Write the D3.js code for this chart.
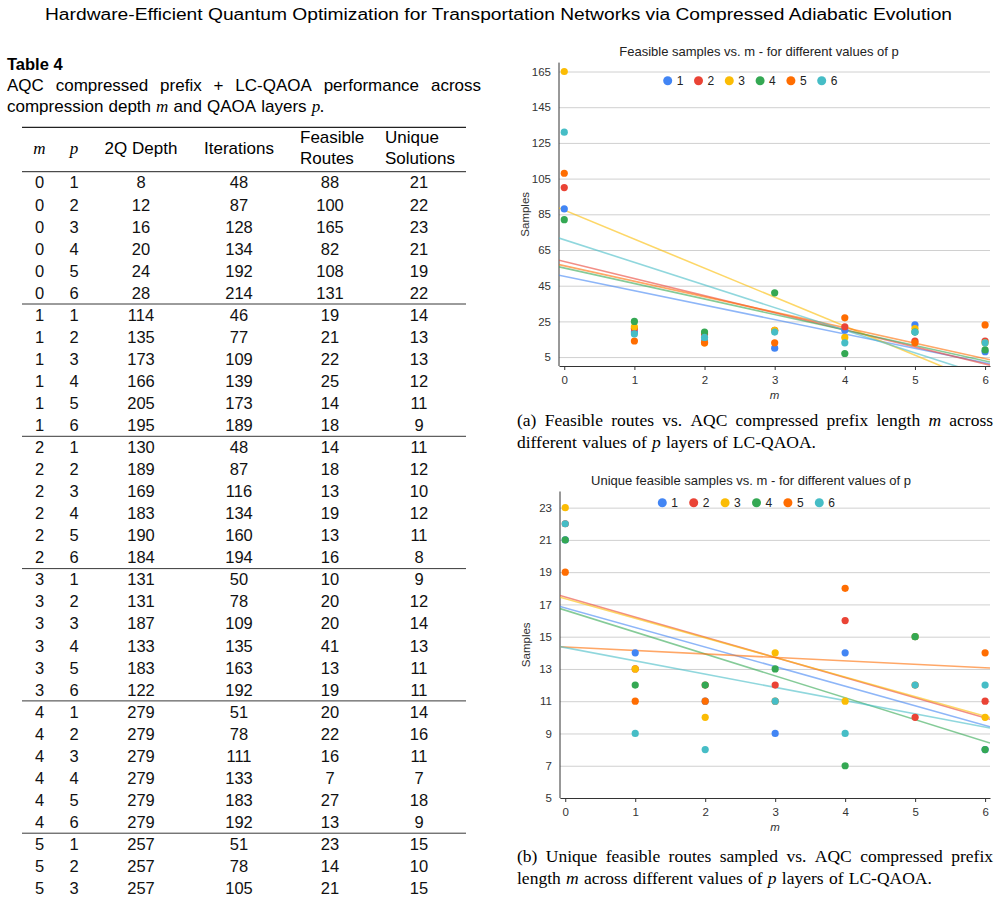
<!DOCTYPE html>
<html>
<head>
<meta charset="utf-8">
<script src="https://cdn.jsdelivr.net/npm/d3@7"></script>
<style>
  body { margin: 0; background: #fff; }
  svg { display: block; }
</style>
</head>
<body>
<svg id="page" width="998" height="903"></svg>
<script>
// ---- data ----
var mValues = [0, 1, 2, 3, 4, 5, 6];
var pLabels = ['1', '2', '3', '4', '5', '6'];
var seriesColors = ['#4285F4', '#EA4335', '#FBBC04', '#34A853', '#FF6D01', '#46BDC6'];

// feasible routes, one array per p, indexed by m
var feasibleP1 = [88, 19, 14, 10, 20, 23, 8];
var feasibleP2 = [100, 21, 18, 20, 22, 14, 14];
var feasibleP3 = [165, 22, 13, 20, 16, 21, 13];
var feasibleP4 = [82, 25, 19, 41, 7, 19, 9];
var feasibleP5 = [108, 14, 13, 13, 27, 13, 23];
var feasibleP6 = [131, 18, 16, 19, 13, 19, 13];

// unique solutions, one array per p, indexed by m
var uniqueP1 = [21, 14, 11, 9, 14, 15, 8];
var uniqueP2 = [22, 13, 12, 12, 16, 10, 11];
var uniqueP3 = [23, 13, 10, 14, 11, 15, 10];
var uniqueP4 = [21, 12, 12, 13, 7, 15, 8];
var uniqueP5 = [19, 11, 11, 11, 18, 12, 14];
var uniqueP6 = [22, 9, 8, 11, 9, 12, 12];

// table columns (rows visible on the page)
var tableM = [0,0,0,0,0,0, 1,1,1,1,1,1, 2,2,2,2,2,2, 3,3,3,3,3,3, 4,4,4,4,4,4, 5,5,5];
var tableP = [1,2,3,4,5,6, 1,2,3,4,5,6, 1,2,3,4,5,6, 1,2,3,4,5,6, 1,2,3,4,5,6, 1,2,3];
var depth2Q = [8,12,16,20,24,28, 114,135,173,166,205,195, 130,189,169,183,190,184,
               131,131,187,133,183,122, 279,279,279,279,279,279, 257,257,257];
var iterations = [48,87,128,134,192,214, 46,77,109,139,173,189, 48,87,116,134,160,194,
                  50,78,109,135,163,192, 51,78,111,133,183,192, 51,78,105];

var feasibleSeries = [feasibleP1, feasibleP2, feasibleP3, feasibleP4, feasibleP5, feasibleP6];
var uniqueSeries = [uniqueP1, uniqueP2, uniqueP3, uniqueP4, uniqueP5, uniqueP6];

var svg = d3.select('#page');
var SANS = '"Liberation Sans", Arial, sans-serif';
var SERIF = '"Liberation Serif", "Times New Roman", serif';

// ---- page header ----
svg.append('text')
  .attr('x', 498.5).attr('y', 14).attr('dy', '0.35em')
  .attr('text-anchor', 'middle')
  .attr('textLength', 907).attr('lengthAdjust', 'spacingAndGlyphs')
  .style('font-family', SANS).style('font-size', '16px')
  .text('Hardware-Efficient Quantum Optimization for Transportation Networks via Compressed Adiabatic Evolution');

// words: plain strings, or '*x*' for italic serif
function writeLine(g, words, x0, x1, y, font, size, justify) {
  var nodes = words.map(function (w) {
    var it = w.length > 2 && w[0] === '*' && w[w.length - 1] === '*';
    var t = g.append('text')
      .attr('y', y).attr('dy', '0.35em')
      .style('font-family', it ? SERIF : font)
      .style('font-style', it ? 'italic' : 'normal')
      .style('font-size', size + 'px')
      .text(it ? w.slice(1, -1) : w);
    return { t: t, w: t.node().getComputedTextLength() };
  });
  var total = d3.sum(nodes, function (n) { return n.w; });
  var gap = justify ? (x1 - x0 - total) / (nodes.length - 1) : size * 0.3;
  var x = x0;
  nodes.forEach(function (n) {
    n.t.attr('x', x);
    x += n.w + gap;
  });
}

// ---- table ----
var tbl = svg.append('g');
tbl.append('text').attr('x', 7).attr('y', 64).attr('dy', '0.35em')
  .style('font-family', SANS).style('font-size', '16.5px').style('font-weight', 'bold')
  .text('Table 4');
writeLine(tbl, 'AQC compressed prefix + LC-QAOA performance across'.split(' '), 7, 481, 85, SANS, 17, true);
writeLine(tbl, ['compression', 'depth', '*m*', 'and', 'QAOA', 'layers', '*p.*'], 7, 481, 106, SANS, 17, false);

var colX = { m: 39.5, p: 74, d: 141, it: 239, f: 330, u: 419 };
var ruleX0 = 22, ruleX1 = 466;

tbl.append('line').attr('x1', ruleX0).attr('x2', ruleX1).attr('y1', 127.3).attr('y2', 127.3)
  .attr('stroke', '#222').attr('stroke-width', 1.3);
[['m', colX.m], ['p', colX.p]].forEach(function (h) {
  tbl.append('text').attr('x', h[1]).attr('y', 148).attr('dy', '0.35em')
    .attr('text-anchor', 'middle')
    .style('font-family', SERIF).style('font-style', 'italic').style('font-size', '17px')
    .text(h[0]);
});
[['2Q Depth', colX.d], ['Iterations', colX.it]].forEach(function (h) {
  tbl.append('text').attr('x', h[1]).attr('y', 148).attr('dy', '0.35em')
    .attr('text-anchor', 'middle')
    .style('font-family', SANS).style('font-size', '17px')
    .text(h[0]);
});
[['Feasible', 300, 137], ['Routes', 300, 158], ['Unique', 385, 137], ['Solutions', 385, 158]].forEach(function (h) {
  tbl.append('text').attr('x', h[1]).attr('y', h[2]).attr('dy', '0.35em')
    .style('font-family', SANS).style('font-size', '17px')
    .text(h[0]);
});

var groupTop = 171.7, groupH = 132.3, rowH = 22.05;
d3.range(6).forEach(function (g) {
  var y = groupTop + g * groupH;
  tbl.append('line').attr('x1', ruleX0).attr('x2', ruleX1).attr('y1', y).attr('y2', y)
    .attr('stroke', '#222').attr('stroke-width', g === 0 ? 1 : 0.9);
});
var rows = tableM.map(function (m, i) {
  var p = tableP[i];
  return [m, p, depth2Q[i], iterations[i], feasibleSeries[p - 1][m], uniqueSeries[p - 1][m]];
});
var rowSel = tbl.selectAll('g.row').data(rows).enter().append('g').attr('class', 'row')
  .attr('transform', function (d, i) {
    var m = tableM[i], k = tableP[i] - 1;
    return 'translate(0,' + (groupTop + m * groupH + 11 + k * rowH) + ')';
  });
rowSel.selectAll('text').data(function (d) { return d; }).enter().append('text')
  .attr('x', function (d, j) { return [colX.m, colX.p, colX.d, colX.it, colX.f, colX.u][j]; })
  .attr('dy', '0.35em').attr('text-anchor', 'middle')
  .style('font-family', SANS).style('font-size', '16.5px').style('fill', '#111')
  .text(function (d) { return d; });

// ---- charts ----
function linReg(xs, ys) {
  var mx = d3.mean(xs), my = d3.mean(ys);
  var sxy = d3.sum(xs, function (x, i) { return (x - mx) * (ys[i] - my); });
  var sxx = d3.sum(xs, function (x) { return (x - mx) * (x - mx); });
  var b = sxy / sxx;
  return { slope: b, icept: my - b * mx };
}

function drawChart(cfg) {
  var g = svg.append('g');
  var x = d3.scaleLinear().domain([-0.075, 6.07]).range([cfg.left, cfg.right]);
  var y = d3.scaleLinear().domain(cfg.yDomain).range([cfg.bottom, cfg.top]);

  g.append('text').attr('x', cfg.titleX).attr('y', cfg.titleY).attr('dy', '0.35em')
    .attr('text-anchor', 'middle')
    .style('font-family', SANS).style('font-size', '13px').style('fill', '#222')
    .text(cfg.title);

  // gridlines + y labels
  var yAxis = d3.axisLeft(y).tickValues(cfg.yTicks).tickSize(-(cfg.right - cfg.left)).tickPadding(8);
  var ya = g.append('g').attr('transform', 'translate(' + cfg.left + ',0)').call(yAxis);
  ya.select('.domain').remove();
  ya.selectAll('.tick line').attr('stroke', '#d0d0d0');
  ya.selectAll('.tick text').style('font-family', SANS).style('font-size', '11.5px').style('fill', '#333');

  // x axis
  var xAxis = d3.axisBottom(x).tickValues(mValues).tickFormat(d3.format('d'))
    .tickSize(4).tickPadding(6).tickSizeOuter(0);
  var xa = g.append('g').attr('transform', 'translate(0,' + cfg.bottom + ')').call(xAxis);
  xa.select('.domain').attr('stroke', '#333');
  xa.selectAll('.tick line').attr('stroke', '#333');
  xa.selectAll('.tick text').style('font-family', SANS).style('font-size', '11.5px').style('fill', '#333');

  g.append('line').attr('x1', cfg.left).attr('x2', cfg.left)
    .attr('y1', cfg.top).attr('y2', cfg.bottom).attr('stroke', '#333');

  g.append('text').attr('x', (cfg.left + cfg.right) / 2).attr('y', cfg.bottom + 29).attr('dy', '0.35em')
    .attr('text-anchor', 'middle')
    .style('font-family', SANS).style('font-style', 'italic').style('font-size', '11.5px').style('fill', '#333')
    .text('m');
  g.append('text')
    .attr('transform', 'translate(' + (cfg.left - 34) + ',' + ((cfg.top + cfg.bottom) / 2) + ') rotate(-90)')
    .attr('dy', '0.35em').attr('text-anchor', 'middle')
    .style('font-family', SANS).style('font-size', '11.5px').style('fill', '#333')
    .text('Samples');

  // trendlines
  var clipId = cfg.id + '-clip';
  g.append('clipPath').attr('id', clipId).append('rect')
    .attr('x', cfg.left).attr('y', cfg.top)
    .attr('width', cfg.right - cfg.left).attr('height', cfg.bottom - cfg.top);
  var line = d3.line().x(function (d) { return x(d[0]); }).y(function (d) { return y(d[1]); });
  var lines = g.append('g').attr('clip-path', 'url(#' + clipId + ')');
  cfg.series.forEach(function (vals, i) {
    var r = linReg(mValues, vals);
    var dom = x.domain();
    lines.append('path')
      .datum(dom.map(function (m) { return [m, r.icept + r.slope * m]; }))
      .attr('d', line)
      .attr('fill', 'none').attr('stroke', seriesColors[i])
      .attr('stroke-width', 1.6).attr('stroke-opacity', 0.6);
  });

  // points
  cfg.series.forEach(function (vals, i) {
    g.append('g').selectAll('circle').data(vals).enter().append('circle')
      .attr('cx', function (d, j) { return x(mValues[j]); })
      .attr('cy', function (d) { return y(d); })
      .attr('r', 3.6).attr('fill', seriesColors[i]);
  });

  // legend
  var leg = g.append('g').selectAll('g').data(pLabels).enter().append('g')
    .attr('transform', function (d, i) {
      return 'translate(' + (cfg.legX + i * cfg.legStep) + ',' + cfg.legY + ')';
    });
  leg.append('circle').attr('r', 4.5).attr('fill', function (d, i) { return seriesColors[i]; });
  leg.append('text').attr('x', 9).attr('dy', '0.35em')
    .style('font-family', SANS).style('font-size', '12px').style('fill', '#222')
    .text(function (d) { return d; });
}

drawChart({
  id: 'feasible', title: 'Feasible samples vs. m - for different values of p',
  titleX: 759, titleY: 51.5,
  left: 559, right: 990, top: 62.6, bottom: 366,
  yDomain: [0, 170], yTicks: d3.range(5, 166, 20),
  series: feasibleSeries,
  legX: 667.7, legY: 80.7, legStep: 30.8
});
drawChart({
  id: 'unique', title: 'Unique feasible samples vs. m - for different values of p',
  titleX: 751, titleY: 480.7,
  left: 560, right: 990, top: 491.5, bottom: 798,
  yDomain: [5, 24], yTicks: d3.range(5, 24, 2),
  series: uniqueSeries,
  legX: 662.3, legY: 502.7, legStep: 31.4
});

// ---- figure captions ----
var cap = svg.append('g');
writeLine(cap, ['(a)', 'Feasible', 'routes', 'vs.', 'AQC', 'compressed', 'prefix', 'length', '*m*', 'across'], 517, 993, 420, SERIF, 17.5, true);
writeLine(cap, ['different', 'values', 'of', '*p*', 'layers', 'of', 'LC-QAOA.'], 517, 993, 442, SERIF, 17.5, false);
writeLine(cap, ['(b)', 'Unique', 'feasible', 'routes', 'sampled', 'vs.', 'AQC', 'compressed', 'prefix'], 517, 993, 856, SERIF, 17.5, true);
writeLine(cap, ['length', '*m*', 'across', 'different', 'values', 'of', '*p*', 'layers', 'of', 'LC-QAOA.'], 517, 993, 878, SERIF, 17.5, false);
</script>
</body>
</html>
